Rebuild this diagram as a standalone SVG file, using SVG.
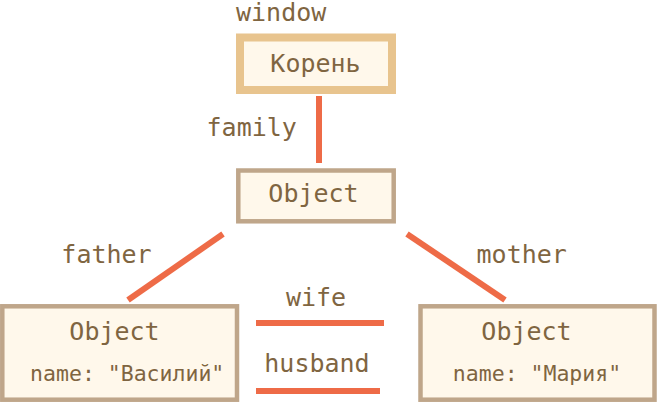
<svg xmlns="http://www.w3.org/2000/svg" width="658" height="404" viewBox="0 0 658 404">
<style>
text{font-family:"DejaVu Sans Mono","Liberation Mono",monospace;fill:#7f6541;}
.big{font-size:25px;}
.small{font-size:21.5px;}
.mid{text-anchor:middle;}
.box{fill:#fff8eb;stroke:#bfa68a;stroke-width:4.5;}
.root{fill:#fff8eb;stroke:#e8c48e;stroke-width:8;}
.link{stroke:#ee6b47;stroke-width:6;fill:none;}
</style>
<rect width="658" height="404" fill="#ffffff"/>
<g id="connectors">
<line class="link" x1="319" y1="96" x2="319" y2="163"/>
<line class="link" x1="223" y1="234" x2="128" y2="300"/>
<line class="link" x1="407" y1="234" x2="505" y2="300"/>
<line class="link" x1="256" y1="323" x2="384" y2="323"/>
<line class="link" x1="256" y1="391" x2="380" y2="391"/>
<text class="big mid" x="251.7" y="136">family</text>
<text class="big mid" x="106.5" y="263">father</text>
<text class="big mid" x="521.7" y="263">mother</text>
<text class="big mid" x="316" y="306">wife</text>
<text class="big mid" x="317" y="372">husband</text>
</g>
<g id="root">
<text class="big" x="236" y="21">window</text>
<rect class="root" x="240" y="37.5" width="152" height="52.5"/>
<text class="big mid" x="315.5" y="72">Корень</text>
</g>
<g id="family-object">
<rect class="box" x="238.3" y="170.5" width="155.4" height="50.8"/>
<text class="big mid" x="313.5" y="202">Object</text>
</g>
<g id="father-object">
<rect class="box" x="2.3" y="306.3" width="234.7" height="93.4"/>
<text class="big mid" x="114.5" y="340">Object</text>
<text class="small mid" x="127.2" y="381">name: "Василий"</text>
</g>
<g id="mother-object">
<rect class="box" x="420.5" y="306.3" width="234" height="93.4"/>
<text class="big mid" x="526.5" y="340">Object</text>
<text class="small mid" x="537" y="381">name: "Мария"</text>
</g>
</svg>
